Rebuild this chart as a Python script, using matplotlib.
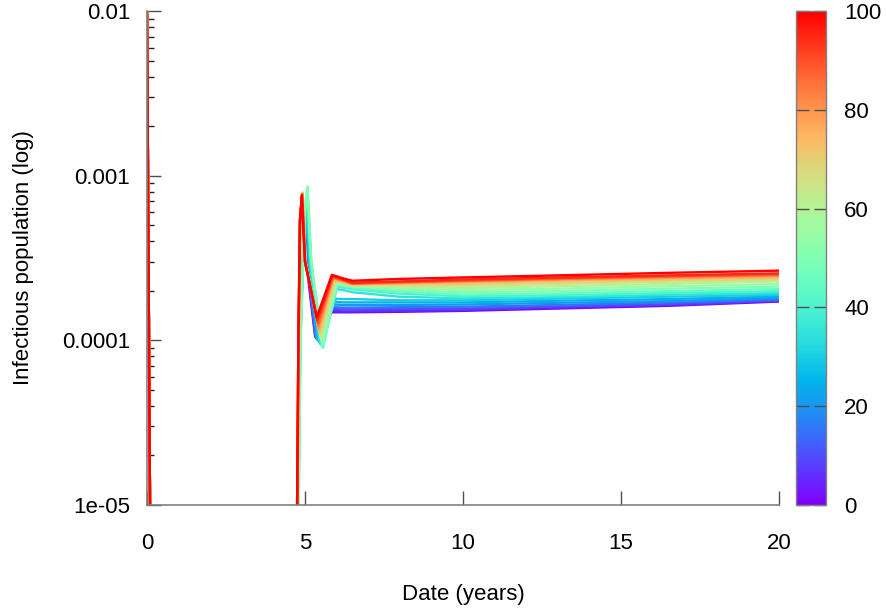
import numpy as np
import matplotlib
matplotlib.use("Agg")
import matplotlib.pyplot as plt
from matplotlib import colors, cm

plt.rcParams['font.family'] = ['Liberation Sans', 'DejaVu Sans']

# colour parameter of each run
params = [0, 5, 10, 15, 20, 25, 30, 35, 40, 45, 50, 55, 60, 65, 70, 75, 80, 85, 90, 95, 100]

# initial outbreak, identical for every run
t_initial = [0.0, 0.1]
i_initial = [1.0e-2, 7.0e-6]

# second wave, one entry per run; infectious values in units of 1e-4
rise_t = [4.78, 4.78, 4.78, 4.78, 4.78, 4.79, 4.79, 4.79, 4.80, 4.80, 4.80,
          4.77, 4.77, 4.77, 4.76, 4.76, 4.76, 4.76, 4.75, 4.75, 4.75]   # at 1e-5
knee_t = [4.84, 4.84, 4.84, 4.84, 4.84, 4.85, 4.85, 4.85, 4.85, 4.86, 4.86,
          4.81, 4.81, 4.81, 4.80, 4.80, 4.80, 4.80, 4.79, 4.79, 4.79]   # at 1e-4
top_t = [4.93, 4.93, 4.94, 4.94, 4.95, 4.96, 4.96, 4.97, 4.98, 4.99, 4.99,
         4.86, 4.86, 4.85, 4.85, 4.85, 4.84, 4.84, 4.84, 4.84, 4.84]
top_i = [2.8, 3.0, 3.2, 3.5, 3.8, 4.1, 4.5, 5.0, 5.6, 6.0, 6.0,
         5.5, 5.5, 5.5, 5.5, 5.5, 5.4, 5.4, 5.4, 5.3, 5.3]
peak_t = [5.00, 5.00, 5.01, 5.01, 5.02, 5.03, 5.04, 5.05, 5.07, 5.08, 5.08,
          4.93, 4.93, 4.92, 4.92, 4.92, 4.91, 4.91, 4.91, 4.90, 4.90]
peak_i = [4.0, 4.3, 4.6, 5.0, 5.4, 5.9, 6.5, 7.2, 8.0, 8.6, 8.5,
          7.9, 7.9, 7.8, 7.8, 7.8, 7.7, 7.7, 7.7, 7.6, 7.6]
fall_t = [5.12, 5.12, 5.13, 5.13, 5.14, 5.15, 5.16, 5.17, 5.19, 5.20, 5.20,
          5.02, 5.02, 5.01, 5.01, 5.01, 5.01, 5.00, 5.00, 5.00, 5.00]
fall_i = [2.2, 2.3, 2.4, 2.5, 2.6, 2.7, 2.8, 2.9, 3.0, 3.0, 3.0,
          3.0, 3.0, 3.0, 3.0, 3.0, 3.0, 3.0, 3.0, 3.0, 3.0]
trough_t = [5.32, 5.33, 5.34, 5.35, 5.37, 5.40, 5.44, 5.48, 5.53, 5.57, 5.56,
            5.53, 5.51, 5.49, 5.47, 5.45, 5.43, 5.42, 5.40, 5.39, 5.37]
trough_i = [1.06, 1.05, 1.04, 1.03, 1.02, 1.00, 0.98, 0.95, 0.92, 0.90, 0.93,
            0.98, 1.02, 1.06, 1.10, 1.14, 1.18, 1.23, 1.28, 1.33, 1.38]
shoulder_t = [5.85, 5.86, 5.88, 5.90, 5.92, 5.95, 5.98, 6.00, 6.02, 6.02, 6.00,
              5.98, 5.96, 5.94, 5.92, 5.90, 5.89, 5.88, 5.87, 5.86, 5.85]
shoulder_i = [1.48, 1.51, 1.55, 1.59, 1.65, 1.71, 1.79, 2.05, 2.12, 2.17, 2.20,
              2.22, 2.25, 2.28, 2.31, 2.34, 2.37, 2.40, 2.43, 2.46, 2.50]

# slow endemic phase
plateau_t = [6.2, 6.5, 8.0, 10.0, 13.0, 16.5, 20.0]
i_6p2 = [1.48, 1.50, 1.54, 1.58, 1.64, 1.70, 1.78, 2.02, 2.09, 2.14, 2.17,
         2.19, 2.21, 2.23, 2.25, 2.27, 2.29, 2.31, 2.33, 2.35, 2.38]
i_6p5 = [1.48, 1.50, 1.54, 1.58, 1.64, 1.70, 1.78, 1.96, 2.04, 2.09, 2.12,
         2.14, 2.16, 2.17, 2.18, 2.19, 2.20, 2.21, 2.22, 2.24, 2.30]
i_8 = [1.49, 1.51, 1.55, 1.59, 1.64, 1.70, 1.75, 1.84, 1.92, 1.98, 2.03,
       2.07, 2.11, 2.15, 2.19, 2.22, 2.23, 2.25, 2.26, 2.28, 2.36]
i_10 = [1.51, 1.53, 1.56, 1.60, 1.65, 1.70, 1.75, 1.80, 1.85, 1.90, 1.96,
        2.02, 2.08, 2.14, 2.20, 2.25, 2.28, 2.29, 2.31, 2.34, 2.41]
i_13 = [1.56, 1.58, 1.61, 1.64, 1.69, 1.74, 1.79, 1.83, 1.88, 1.93, 1.99,
        2.06, 2.13, 2.20, 2.26, 2.31, 2.34, 2.36, 2.38, 2.41, 2.48]
i_16p5 = [1.62, 1.64, 1.66, 1.70, 1.73, 1.78, 1.84, 1.89, 1.94, 1.99, 2.06,
          2.13, 2.20, 2.27, 2.33, 2.37, 2.40, 2.43, 2.45, 2.48, 2.57]
i_20 = [1.72, 1.73, 1.75, 1.77, 1.81, 1.85, 1.89, 1.94, 1.99, 2.05, 2.12,
        2.20, 2.28, 2.33, 2.38, 2.43, 2.46, 2.49, 2.52, 2.55, 2.65]

ytick_vals = [1e-5, 1e-4, 1e-3, 1e-2]
ytick_labels = ['1e-05', '0.0001', '0.001', '0.01']
xtick_vals = [0, 5, 10, 15, 20]
cbar_ticks = [0, 20, 40, 60, 80, 100]

fig = plt.figure(figsize=(8.86, 6.12), dpi=100)
ax = fig.add_axes([147/886, 1 - 505/612, 632/886, 494/612])
cax = fig.add_axes([796/886, 1 - 505/612, 30/886, 494/612])

cmap = plt.get_cmap('rainbow')
norm = colors.Normalize(vmin=0, vmax=100)

for k, p in enumerate(params):
    t = (t_initial + [np.nan] +
         [rise_t[k], knee_t[k], top_t[k], peak_t[k], fall_t[k], trough_t[k], shoulder_t[k]] +
         plateau_t)
    v = (i_initial + [np.nan] +
         [x * 1e-4 for x in [0.1, 1.0, top_i[k], peak_i[k], fall_i[k], trough_i[k], shoulder_i[k],
                             i_6p2[k], i_6p5[k], i_8[k], i_10[k], i_13[k], i_16p5[k], i_20[k]]])
    ax.plot(t, v, color=cmap(norm(p)), lw=1.7, solid_joinstyle='round')

ax.set_yscale('log')
ax.set_xlim(0, 20)
ax.set_ylim(1e-5, 1e-2)
ax.set_yticks(ytick_vals, ytick_labels)
ax.set_xticks(xtick_vals)

for s in ['top', 'right']:
    ax.spines[s].set_visible(False)
for s in ['left', 'bottom']:
    ax.spines[s].set_color('#808080')
    ax.spines[s].set_linewidth(1.2)

ax.tick_params(axis='both', which='major', direction='in', length=10, width=1,
               color='#505050', labelsize=16, pad=12)
ax.tick_params(axis='x', which='major', pad=20)
ax.tick_params(axis='y', which='minor', direction='in', length=5, width=1, color='#202020')
ax.tick_params(axis='x', which='minor', bottom=False)

ax.set_xlabel('Date (years)', fontsize=16, labelpad=22)
ax.set_ylabel('Infectious population (log)', fontsize=16, labelpad=20)

cb = fig.colorbar(cm.ScalarMappable(norm=norm, cmap=cmap), cax=cax)
cb.set_ticks(cbar_ticks)
cb.outline.set_edgecolor('#808080')
cb.outline.set_linewidth(1)
cax.tick_params(direction='in', left=True, right=True, length=9, width=1,
                color='#505050', labelsize=16, pad=13)

fig.savefig('out.png', dpi=100)
